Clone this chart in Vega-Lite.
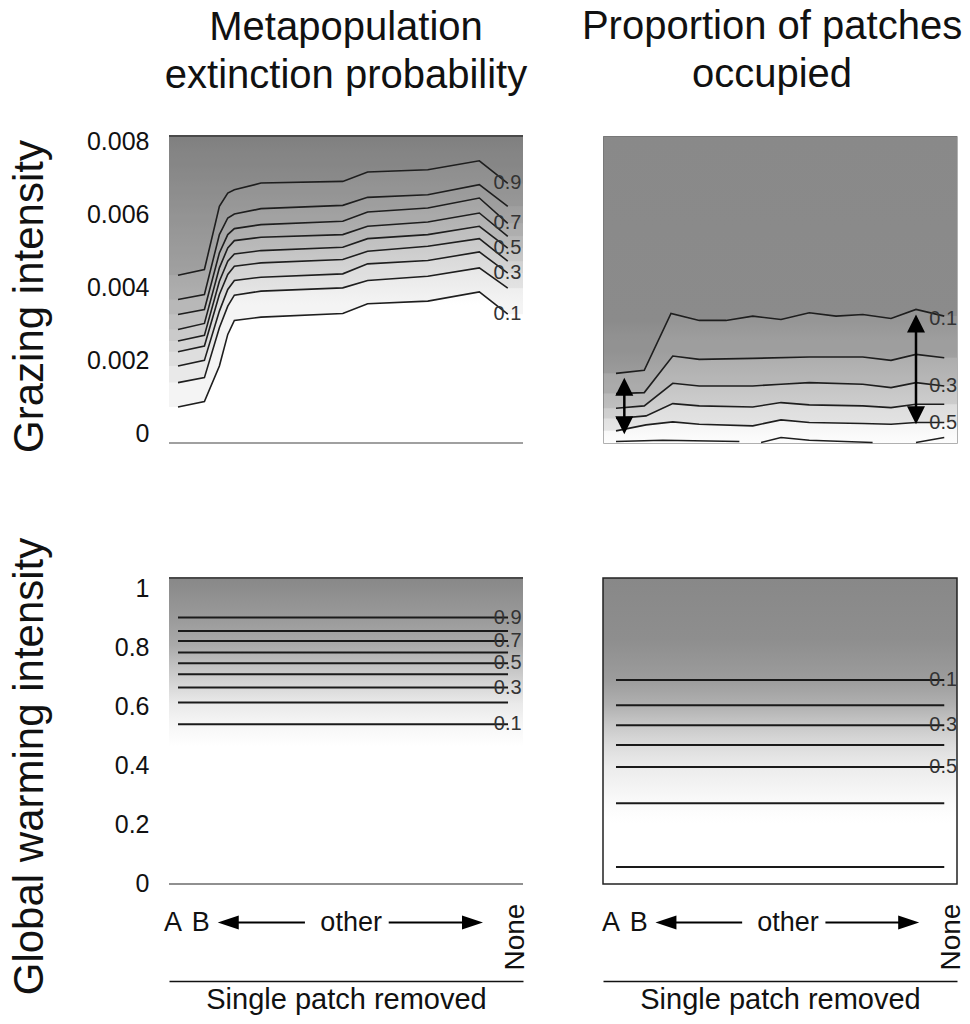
{
  "$schema": "https://vega.github.io/schema/vega-lite/v6.json",
  "padding": {"left": 7, "top": 6, "right": 5, "bottom": 5},
  "background": "white",
  "columns": 2,
  "spacing": {"row": 135, "column": 80},
  "bounds": "flush",
  "config": {
    "view": {"stroke": null},
    "font": "Liberation Sans",
    "axis": {"grid": false, "ticks": false, "domain": false, "labelFontSize": 25, "labelColor": "#111111", "labelPadding": 20, "titleFontSize": 42, "titleFontWeight": "normal", "titleColor": "#111111", "labelFont": "Liberation Sans", "titleFont": "Liberation Sans"},
    "title": {"fontSize": 40, "fontWeight": "normal", "color": "#111111", "font": "Liberation Sans"},
    "text": {"font": "Liberation Sans"}
  },
  "datasets": {
    "tl": [
      {"level":"0.9","x":1,"y":0.004341},{"level":"0.9","x":2.04,"y":0.004496},{"level":"0.9","x":2.63,"y":0.006225},{"level":"0.9","x":2.96,"y":0.006589},{"level":"0.9","x":3.22,"y":0.00668},{"level":"0.9","x":4.27,"y":0.006862},{"level":"0.9","x":7.49,"y":0.006908},{"level":"0.9","x":8.47,"y":0.007163},{"level":"0.9","x":10.84,"y":0.007226},{"level":"0.9","x":12.87,"y":0.007472},{"level":"0.9","x":13.99,"y":0.006853},
      {"level":"0.9","x":0.645,"y":0.004341,"ext":1},{"level":"0.9","x":14.59,"y":0.006853,"ext":1},
      {"level":"0.8","x":1,"y":0.003677},{"level":"0.8","x":2.04,"y":0.003813},{"level":"0.8","x":2.63,"y":0.005452},{"level":"0.8","x":2.96,"y":0.005907},{"level":"0.8","x":3.22,"y":0.006016},{"level":"0.8","x":4.27,"y":0.006162},{"level":"0.8","x":7.49,"y":0.006253},{"level":"0.8","x":8.47,"y":0.006471},{"level":"0.8","x":10.84,"y":0.006544},{"level":"0.8","x":12.87,"y":0.006817},{"level":"0.8","x":13.99,"y":0.006225},
      {"level":"0.8","x":0.645,"y":0.003677,"ext":1},{"level":"0.8","x":14.59,"y":0.006225,"ext":1},
      {"level":"0.7","x":1,"y":0.003267},{"level":"0.7","x":2.04,"y":0.003404},{"level":"0.7","x":2.63,"y":0.004951},{"level":"0.7","x":2.96,"y":0.005452},{"level":"0.7","x":3.22,"y":0.005616},{"level":"0.7","x":4.27,"y":0.005725},{"level":"0.7","x":7.49,"y":0.005816},{"level":"0.7","x":8.47,"y":0.006071},{"level":"0.7","x":10.84,"y":0.00618},{"level":"0.7","x":12.87,"y":0.006453},{"level":"0.7","x":13.99,"y":0.005761},
      {"level":"0.7","x":0.645,"y":0.003267,"ext":1},{"level":"0.7","x":14.59,"y":0.005761,"ext":1},
      {"level":"0.6","x":1,"y":0.002858},{"level":"0.6","x":2.04,"y":0.003022},{"level":"0.6","x":2.63,"y":0.004542},{"level":"0.6","x":2.96,"y":0.005088},{"level":"0.6","x":3.22,"y":0.005288},{"level":"0.6","x":4.27,"y":0.005379},{"level":"0.6","x":7.49,"y":0.005452},{"level":"0.6","x":8.47,"y":0.005679},{"level":"0.6","x":10.84,"y":0.005798},{"level":"0.6","x":12.87,"y":0.006043},{"level":"0.6","x":13.99,"y":0.005406},
      {"level":"0.6","x":0.645,"y":0.002858,"ext":1},{"level":"0.6","x":14.59,"y":0.005406,"ext":1},
      {"level":"0.5","x":1,"y":0.002539},{"level":"0.5","x":2.04,"y":0.002694},{"level":"0.5","x":2.63,"y":0.004178},{"level":"0.5","x":2.96,"y":0.004724},{"level":"0.5","x":3.22,"y":0.004924},{"level":"0.5","x":4.27,"y":0.005015},{"level":"0.5","x":7.49,"y":0.005106},{"level":"0.5","x":8.47,"y":0.005342},{"level":"0.5","x":10.84,"y":0.005452},{"level":"0.5","x":12.87,"y":0.005679},{"level":"0.5","x":13.99,"y":0.005079},
      {"level":"0.5","x":0.645,"y":0.002539,"ext":1},{"level":"0.5","x":14.59,"y":0.005079,"ext":1},
      {"level":"0.4","x":1,"y":0.002248},{"level":"0.4","x":2.04,"y":0.002403},{"level":"0.4","x":2.63,"y":0.003813},{"level":"0.4","x":2.96,"y":0.00436},{"level":"0.4","x":3.22,"y":0.004587},{"level":"0.4","x":4.27,"y":0.004678},{"level":"0.4","x":7.49,"y":0.004769},{"level":"0.4","x":8.47,"y":0.004997},{"level":"0.4","x":10.84,"y":0.005133},{"level":"0.4","x":12.87,"y":0.005342},{"level":"0.4","x":13.99,"y":0.004724},
      {"level":"0.4","x":0.645,"y":0.002248,"ext":1},{"level":"0.4","x":14.59,"y":0.004724,"ext":1},
      {"level":"0.3","x":1,"y":0.001857},{"level":"0.3","x":2.04,"y":0.002011},{"level":"0.3","x":2.63,"y":0.003358},{"level":"0.3","x":2.96,"y":0.00395},{"level":"0.3","x":3.22,"y":0.004196},{"level":"0.3","x":4.27,"y":0.004287},{"level":"0.3","x":7.49,"y":0.004378},{"level":"0.3","x":8.47,"y":0.004651},{"level":"0.3","x":10.84,"y":0.004742},{"level":"0.3","x":12.87,"y":0.004978},{"level":"0.3","x":13.99,"y":0.004396},
      {"level":"0.3","x":0.645,"y":0.001857,"ext":1},{"level":"0.3","x":14.59,"y":0.004396,"ext":1},
      {"level":"0.2","x":1,"y":0.001402},{"level":"0.2","x":2.04,"y":0.001538},{"level":"0.2","x":2.63,"y":0.002903},{"level":"0.2","x":2.96,"y":0.003495},{"level":"0.2","x":3.22,"y":0.003795},{"level":"0.2","x":4.27,"y":0.003905},{"level":"0.2","x":7.49,"y":0.003995},{"level":"0.2","x":8.47,"y":0.004196},{"level":"0.2","x":10.84,"y":0.004314},{"level":"0.2","x":12.87,"y":0.004542},{"level":"0.2","x":13.99,"y":0.003986},
      {"level":"0.2","x":0.645,"y":0.001402,"ext":1},{"level":"0.2","x":14.59,"y":0.003986,"ext":1},
      {"level":"0.1","x":1,"y":0.000737},{"level":"0.1","x":2.04,"y":0.000883},{"level":"0.1","x":2.63,"y":0.001857},{"level":"0.1","x":2.96,"y":0.002721},{"level":"0.1","x":3.22,"y":0.003104},{"level":"0.1","x":4.27,"y":0.003195},{"level":"0.1","x":7.49,"y":0.003295},{"level":"0.1","x":8.47,"y":0.003559},{"level":"0.1","x":10.84,"y":0.003631},{"level":"0.1","x":12.87,"y":0.003886},{"level":"0.1","x":13.99,"y":0.003276},
      {"level":"0.1","x":0.645,"y":0.000737,"ext":1},{"level":"0.1","x":14.59,"y":0.003276,"ext":1}
    ],
    "tl_lab": [
      {"label":"0.9","x":13.98,"y":0.006853},{"label":"0.7","x":13.98,"y":0.005761},{"label":"0.5","x":13.98,"y":0.005079},{"label":"0.3","x":13.98,"y":0.004396},{"label":"0.1","x":13.98,"y":0.003276}
    ],
    "tr": [
      {"level":"0.1","x":1,"y":0.001656},{"level":"0.1","x":2.12,"y":0.001738},{"level":"0.1","x":3.18,"y":0.003295},{"level":"0.1","x":4.3,"y":0.003104},{"level":"0.1","x":5.36,"y":0.003104},{"level":"0.1","x":6.42,"y":0.003222},{"level":"0.1","x":7.54,"y":0.003131},{"level":"0.1","x":8.66,"y":0.003313},{"level":"0.1","x":9.72,"y":0.003222},{"level":"0.1","x":10.78,"y":0.003267},{"level":"0.1","x":11.9,"y":0.003158},{"level":"0.1","x":12.89,"y":0.003404},{"level":"0.1","x":14.01,"y":0.003222},
      {"level":"0.1","x":0.485,"y":0.001656,"ext":1},{"level":"0.1","x":14.515,"y":0.003222,"ext":1},
      {"level":"0.2","x":1,"y":0.001101},{"level":"0.2","x":2.12,"y":0.001129},{"level":"0.2","x":3.25,"y":0.00213},{"level":"0.2","x":4.3,"y":0.002039},{"level":"0.2","x":6.42,"y":0.002066},{"level":"0.2","x":8.66,"y":0.002102},{"level":"0.2","x":10.78,"y":0.002102},{"level":"0.2","x":11.9,"y":0.002011},{"level":"0.2","x":12.89,"y":0.002175},{"level":"0.2","x":14.01,"y":0.002084},
      {"level":"0.2","x":0.485,"y":0.001101,"ext":1},{"level":"0.2","x":14.515,"y":0.002084,"ext":1},
      {"level":"0.3","x":1,"y":0.000701},{"level":"0.3","x":2.12,"y":0.000765},{"level":"0.3","x":3.25,"y":0.001383},{"level":"0.3","x":4.3,"y":0.001311},{"level":"0.3","x":6.42,"y":0.001311},{"level":"0.3","x":7.54,"y":0.001356},{"level":"0.3","x":8.66,"y":0.001402},{"level":"0.3","x":10.78,"y":0.001356},{"level":"0.3","x":11.9,"y":0.001265},{"level":"0.3","x":12.89,"y":0.001402},{"level":"0.3","x":14.01,"y":0.001311},
      {"level":"0.3","x":0.485,"y":0.000701,"ext":1},{"level":"0.3","x":14.515,"y":0.001311,"ext":1},
      {"level":"0.4","x":1,"y":0.000419},{"level":"0.4","x":2.19,"y":0.000491},{"level":"0.4","x":3.25,"y":0.000828},{"level":"0.4","x":4.3,"y":0.000765},{"level":"0.4","x":6.42,"y":0.000737},{"level":"0.4","x":7.54,"y":0.000856},{"level":"0.4","x":8.66,"y":0.000792},{"level":"0.4","x":10.78,"y":0.000765},{"level":"0.4","x":11.9,"y":0.000719},{"level":"0.4","x":12.89,"y":0.00081},{"level":"0.4","x":14.01,"y":0.00081},
      {"level":"0.4","x":0.485,"y":0.000419,"ext":1},{"level":"0.4","x":14.515,"y":0.00081,"ext":1},
      {"level":"0.5","x":1,"y":0.000082},{"level":"0.5","x":2.19,"y":0.000246},{"level":"0.5","x":3.25,"y":0.000328},{"level":"0.5","x":4.3,"y":0.000264},{"level":"0.5","x":6.42,"y":0.000218},{"level":"0.5","x":7.54,"y":0.000382},{"level":"0.5","x":8.66,"y":0.000309},{"level":"0.5","x":10.78,"y":0.000282},{"level":"0.5","x":11.9,"y":0.000264},{"level":"0.5","x":12.89,"y":0.000309},{"level":"0.5","x":14.01,"y":0.000309},
      {"level":"0.5","x":0.485,"y":0.000082,"ext":1},{"level":"0.5","x":14.515,"y":0.000309,"ext":1}
    ],
    "tr_frag": [
      {"seg":"a","x":1,"y":-0.000209},{"seg":"a","x":2.85,"y":-0.000173},{"seg":"a","x":5.89,"y":-0.000209},
      {"seg":"b","x":6.75,"y":-0.000237},{"seg":"b","x":7.54,"y":-0.0001},{"seg":"b","x":8.66,"y":-0.000173},{"seg":"b","x":11.17,"y":-0.000237},
      {"seg":"c","x":12.89,"y":-0.000237},{"seg":"c","x":14.01,"y":-0.0001}
    ],
    "tr_lab": [
      {"label":"0.1","x":13.97,"y":0.003131},{"label":"0.3","x":13.97,"y":0.001311},{"label":"0.5","x":13.97,"y":0.000309}
    ],
    "tr_arw_rule": [
      {"x":1.33,"y":0.001291,"y2":0.000238},{"x":12.89,"y":0.003022,"y2":0.000511}
    ],
    "tr_arw_head": [
      {"x":1.33,"y":0.001291,"dir":"up"},{"x":1.33,"y":0.000238,"dir":"down"},{"x":12.89,"y":0.003022,"dir":"up"},{"x":12.89,"y":0.000511,"dir":"down"}
    ],
    "bl": [
      {"level":"0.9","x":1,"y":0.9027},{"level":"0.9","x":14,"y":0.9027},
      {"level":"0.8","x":1,"y":0.8576},{"level":"0.8","x":14,"y":0.8576},
      {"level":"0.7","x":1,"y":0.8237},{"level":"0.7","x":14,"y":0.8237},
      {"level":"0.6","x":1,"y":0.7841},{"level":"0.6","x":14,"y":0.7841},
      {"level":"0.5","x":1,"y":0.7481},{"level":"0.5","x":14,"y":0.7481},
      {"level":"0.4","x":1,"y":0.7108},{"level":"0.4","x":14,"y":0.7108},
      {"level":"0.3","x":1,"y":0.6655},{"level":"0.3","x":14,"y":0.6655},
      {"level":"0.2","x":1,"y":0.6146},{"level":"0.2","x":14,"y":0.6146},
      {"level":"0.1","x":1,"y":0.5414},{"level":"0.1","x":14,"y":0.5414}
    ],
    "bl_lab": [
      {"label":"0.9","x":13.99,"y":0.9027},{"label":"0.7","x":13.99,"y":0.8237},{"label":"0.5","x":13.99,"y":0.7481},{"label":"0.3","x":13.99,"y":0.6655},{"label":"0.1","x":13.99,"y":0.5414}
    ],
    "br": [
      {"level":"0.1","x":1,"y":0.6915},{"level":"0.1","x":14.01,"y":0.6915},
      {"level":"0.2","x":1,"y":0.6058},{"level":"0.2","x":14.01,"y":0.6058},
      {"level":"0.3","x":1,"y":0.538},{"level":"0.3","x":14.01,"y":0.538},
      {"level":"0.4","x":1,"y":0.4712},{"level":"0.4","x":14.01,"y":0.4712},
      {"level":"0.5","x":1,"y":0.3966},{"level":"0.5","x":14.01,"y":0.3966},
      {"level":"0.6","x":1,"y":0.2736},{"level":"0.6","x":14.01,"y":0.2736},
      {"level":"0.7","x":1,"y":0.0576},{"level":"0.7","x":14.01,"y":0.0576}
    ],
    "br_lab": [
      {"label":"0.1","x":13.97,"y":0.6915},{"label":"0.3","x":13.97,"y":0.538},{"label":"0.5","x":13.97,"y":0.3966}
    ],
    "annot_txt": [
      {"t":"A","x":0.8,"y":-0.131},{"t":"B","x":1.9,"y":-0.131},{"t":"other","x":7.82,"y":-0.131}
    ],
    "annot_none": [{"t":"None","x":14.33,"y":-0.18}],
    "annot_rule": [{"x":2.98,"x2":6.0,"y":-0.131},{"x":9.3,"x2":12.6,"y":-0.131}],
    "annot_head": [{"x":2.98,"y":-0.131,"dir":"left"},{"x":12.6,"y":-0.131,"dir":"right"}],
    "one": [{}]
  },
  "concat": [
    {
      "width": 354, "height": 307,
      "title": {"text": ["Metapopulation", "extinction probability"], "anchor": "middle", "baseline": "bottom", "lineHeight": 48, "offset": -7},
      "view": {"fill": {"gradient": "linear", "x1": 0, "y1": 0, "x2": 0, "y2": 1, "stops": [{"offset": 0, "color": "#c4c4c4"}, {"offset": 0.55, "color": "#ffffff"}, {"offset": 1, "color": "#ffffff"}]}},
      "layer": [
        {"data": {"name": "tl"}, "mark": {"type": "area", "color": "#000000", "opacity": 0.045},
         "encoding": {
           "x": {"field": "x", "type": "quantitative", "scale": {"domain": [0.645, 14.59], "nice": false, "zero": false}, "axis": null},
           "y": {"field": "y", "type": "quantitative", "stack": null, "scale": {"domain": [-0.00025, 0.00815], "nice": false, "zero": false},
                 "axis": {"values": [0, 0.002, 0.004, 0.006, 0.008], "format": ".3~f", "title": "Grazing intensity", "titleX": -118, "titleY": 160, "titleAngle": 270, "titleBaseline": "bottom", "titleAlign": "center"}},
           "y2": {"datum": 0.00815},
           "detail": {"field": "level"}}},
        {"data": {"name": "tl"}, "transform": [{"filter": "!datum.ext"}], "mark": {"type": "line", "color": "#1e1e1e", "strokeWidth": 1.6},
         "encoding": {
           "x": {"field": "x", "type": "quantitative", "scale": {"domain": [0.645, 14.59], "nice": false, "zero": false}, "axis": null},
           "y": {"field": "y", "type": "quantitative", "scale": {"domain": [-0.00025, 0.00815], "nice": false, "zero": false}},
           "detail": {"field": "level"}}},
        {"data": {"name": "one"}, "mark": {"type": "rule", "color": "#4a4a4a", "strokeWidth": 2},
         "encoding": {"y": {"datum": 0.00815, "type": "quantitative", "scale": {"domain": [-0.00025, 0.00815], "nice": false, "zero": false}}}},
        {"data": {"name": "one"}, "mark": {"type": "rule", "color": "#a0a0a0", "strokeWidth": 2},
         "encoding": {"y": {"datum": -0.00025, "type": "quantitative", "scale": {"domain": [-0.00025, 0.00815], "nice": false, "zero": false}}}},
        {"data": {"name": "tl_lab"}, "mark": {"type": "text", "fontSize": 20, "color": "#333333"},
         "encoding": {
           "x": {"field": "x", "type": "quantitative", "scale": {"domain": [0.645, 14.59], "nice": false, "zero": false}, "axis": null},
           "y": {"field": "y", "type": "quantitative", "scale": {"domain": [-0.00025, 0.00815], "nice": false, "zero": false}},
           "text": {"field": "label", "type": "nominal"}}}
      ]
    },
    {
      "width": 354, "height": 307,
      "title": {"text": ["Proportion of patches", "occupied"], "anchor": "middle", "baseline": "bottom", "lineHeight": 48, "offset": 1, "dx": -8},
      "view": {"fill": {"gradient": "linear", "x1": 0, "y1": 0, "x2": 0, "y2": 1, "stops": [{"offset": 0, "color": "#cacaca"}, {"offset": 0.6, "color": "#cccccc"}, {"offset": 1, "color": "#fdfdfd"}]}, "stroke": "#b0b0b0", "strokeWidth": 1},
      "layer": [
        {"data": {"name": "tr"}, "mark": {"type": "area", "color": "#000000", "opacity": 0.07},
         "encoding": {
           "x": {"field": "x", "type": "quantitative", "scale": {"domain": [0.485, 14.515], "nice": false, "zero": false}, "axis": null},
           "y": {"field": "y", "type": "quantitative", "stack": null, "scale": {"domain": [-0.00025, 0.00815], "nice": false, "zero": false}, "axis": null},
           "y2": {"datum": 0.00815},
           "detail": {"field": "level"}}},
        {"data": {"name": "tr"}, "transform": [{"filter": "!datum.ext"}], "mark": {"type": "line", "color": "#1e1e1e", "strokeWidth": 1.6},
         "encoding": {
           "x": {"field": "x", "type": "quantitative", "scale": {"domain": [0.485, 14.515], "nice": false, "zero": false}, "axis": null},
           "y": {"field": "y", "type": "quantitative", "scale": {"domain": [-0.00025, 0.00815], "nice": false, "zero": false}, "axis": null},
           "detail": {"field": "level"}}},
        {"data": {"name": "tr_frag"}, "mark": {"type": "line", "color": "#1e1e1e", "strokeWidth": 1.6},
         "encoding": {
           "x": {"field": "x", "type": "quantitative", "scale": {"domain": [0.485, 14.515], "nice": false, "zero": false}, "axis": null},
           "y": {"field": "y", "type": "quantitative", "scale": {"domain": [-0.00025, 0.00815], "nice": false, "zero": false}, "axis": null},
           "detail": {"field": "seg"}}},
        {"data": {"name": "tr_arw_rule"}, "mark": {"type": "rule", "color": "#000000", "strokeWidth": 2.5},
         "encoding": {
           "x": {"field": "x", "type": "quantitative", "scale": {"domain": [0.485, 14.515], "nice": false, "zero": false}, "axis": null},
           "y": {"field": "y", "type": "quantitative", "scale": {"domain": [-0.00025, 0.00815], "nice": false, "zero": false}, "axis": null},
           "y2": {"field": "y2"}}},
        {"data": {"name": "tr_arw_head"}, "mark": {"type": "point", "filled": true, "color": "#000000", "opacity": 1, "size": 324},
         "encoding": {
           "x": {"field": "x", "type": "quantitative", "scale": {"domain": [0.485, 14.515], "nice": false, "zero": false}, "axis": null},
           "y": {"field": "y", "type": "quantitative", "scale": {"domain": [-0.00025, 0.00815], "nice": false, "zero": false}, "axis": null},
           "shape": {"field": "dir", "type": "nominal", "legend": null, "scale": {"domain": ["up", "down", "left", "right"], "range": ["M0,-1L1,1L-1,1Z", "M0,1L1,-1L-1,-1Z", "M-1,0L1,-0.67L1,0.67Z", "M1,0L-1,-0.67L-1,0.67Z"]}}}},
        {"data": {"name": "tr_lab"}, "mark": {"type": "text", "fontSize": 20, "color": "#333333"},
         "encoding": {
           "x": {"field": "x", "type": "quantitative", "scale": {"domain": [0.485, 14.515], "nice": false, "zero": false}, "axis": null},
           "y": {"field": "y", "type": "quantitative", "scale": {"domain": [-0.00025, 0.00815], "nice": false, "zero": false}, "axis": null},
           "text": {"field": "label", "type": "nominal"}}}
      ]
    },
    {
      "width": 354, "height": 403,
      "view": {"fill": {"gradient": "linear", "x1": 0, "y1": 0, "x2": 0, "y2": 1, "stops": [{"offset": 0, "color": "#888888"}, {"offset": 0.099, "color": "#9a9a9a"}, {"offset": 0.167, "color": "#aaaaaa"}, {"offset": 0.213, "color": "#c0c0c0"}, {"offset": 0.274, "color": "#dadada"}, {"offset": 0.312, "color": "#eaeaea"}, {"offset": 0.365, "color": "#f6f6f6"}, {"offset": 0.418, "color": "#ffffff"}, {"offset": 1, "color": "#ffffff"}]}},
      "layer": [
        {"data": {"name": "bl"}, "mark": {"type": "line", "color": "#1a1a1a", "strokeWidth": 2},
         "encoding": {
           "x": {"field": "x", "type": "quantitative", "scale": {"domain": [0.645, 14.59], "nice": false, "zero": false},
                 "axis": {"domain": true, "domainColor": "#111111", "domainWidth": 1.5, "labels": false, "title": "Single patch removed", "titleFontSize": 29, "titlePadding": 4}},
           "y": {"field": "y", "type": "quantitative", "scale": {"domain": [-0.329, 1.037], "nice": false, "zero": false},
                 "axis": {"values": [0, 0.2, 0.4, 0.6, 0.8, 1], "format": ".1~f", "title": "Global warming intensity", "titleX": -118, "titleY": 188, "titleAngle": 270, "titleBaseline": "bottom", "titleAlign": "center"}},
           "detail": {"field": "level"}}},
        {"data": {"name": "one"}, "mark": {"type": "rule", "color": "#4a4a4a", "strokeWidth": 2},
         "encoding": {"y": {"datum": 1.037, "type": "quantitative", "scale": {"domain": [-0.329, 1.037], "nice": false, "zero": false}}}},
        {"data": {"name": "one"}, "mark": {"type": "rule", "color": "#909090", "strokeWidth": 2},
         "encoding": {"y": {"datum": 0, "type": "quantitative", "scale": {"domain": [-0.329, 1.037], "nice": false, "zero": false}}}},
        {"data": {"name": "bl_lab"}, "mark": {"type": "text", "fontSize": 20, "color": "#333333"},
         "encoding": {
           "x": {"field": "x", "type": "quantitative", "scale": {"domain": [0.645, 14.59], "nice": false, "zero": false}},
           "y": {"field": "y", "type": "quantitative", "scale": {"domain": [-0.329, 1.037], "nice": false, "zero": false}},
           "text": {"field": "label", "type": "nominal"}}},
        {"data": {"name": "annot_txt"}, "mark": {"type": "text", "fontSize": 27, "color": "#111111", "baseline": "middle"},
         "encoding": {
           "x": {"field": "x", "type": "quantitative", "scale": {"domain": [0.645, 14.59], "nice": false, "zero": false}},
           "y": {"field": "y", "type": "quantitative", "scale": {"domain": [-0.329, 1.037], "nice": false, "zero": false}},
           "text": {"field": "t", "type": "nominal"}}},
        {"data": {"name": "annot_none"}, "mark": {"type": "text", "fontSize": 28, "color": "#111111", "baseline": "middle", "angle": 270},
         "encoding": {
           "x": {"field": "x", "type": "quantitative", "scale": {"domain": [0.645, 14.59], "nice": false, "zero": false}},
           "y": {"field": "y", "type": "quantitative", "scale": {"domain": [-0.329, 1.037], "nice": false, "zero": false}},
           "text": {"field": "t", "type": "nominal"}}},
        {"data": {"name": "annot_rule"}, "mark": {"type": "rule", "color": "#000000", "strokeWidth": 2},
         "encoding": {
           "x": {"field": "x", "type": "quantitative", "scale": {"domain": [0.645, 14.59], "nice": false, "zero": false}},
           "x2": {"field": "x2"},
           "y": {"field": "y", "type": "quantitative", "scale": {"domain": [-0.329, 1.037], "nice": false, "zero": false}}}},
        {"data": {"name": "annot_head"}, "mark": {"type": "point", "filled": true, "color": "#000000", "opacity": 1, "size": 441},
         "encoding": {
           "x": {"field": "x", "type": "quantitative", "scale": {"domain": [0.645, 14.59], "nice": false, "zero": false}},
           "y": {"field": "y", "type": "quantitative", "scale": {"domain": [-0.329, 1.037], "nice": false, "zero": false}},
           "shape": {"field": "dir", "type": "nominal", "legend": null, "scale": {"domain": ["up", "down", "left", "right"], "range": ["M0,-1L1,1L-1,1Z", "M0,1L1,-1L-1,-1Z", "M-1,0L1,-0.67L1,0.67Z", "M1,0L-1,-0.67L-1,0.67Z"]}}}}
      ]
    },
    {
      "width": 354, "height": 403,
      "view": {"fill": {"gradient": "linear", "x1": 0, "y1": 0, "x2": 0, "y2": 1, "stops": [{"offset": 0, "color": "#888888"}, {"offset": 0.152, "color": "#8e8e8e"}, {"offset": 0.253, "color": "#9c9c9c"}, {"offset": 0.315, "color": "#b0b0b0"}, {"offset": 0.365, "color": "#c8c8c8"}, {"offset": 0.415, "color": "#dcdcdc"}, {"offset": 0.47, "color": "#ececec"}, {"offset": 0.559, "color": "#fafafa"}, {"offset": 0.608, "color": "#ffffff"}, {"offset": 1, "color": "#ffffff"}]}},
      "layer": [
        {"data": {"name": "br"}, "mark": {"type": "line", "color": "#1a1a1a", "strokeWidth": 2},
         "encoding": {
           "x": {"field": "x", "type": "quantitative", "scale": {"domain": [0.485, 14.515], "nice": false, "zero": false},
                 "axis": {"domain": true, "domainColor": "#111111", "domainWidth": 1.5, "labels": false, "title": "Single patch removed", "titleFontSize": 29, "titlePadding": 4}},
           "y": {"field": "y", "type": "quantitative", "scale": {"domain": [-0.329, 1.037], "nice": false, "zero": false}, "axis": null},
           "detail": {"field": "level"}}},
        {"data": {"name": "one"}, "mark": {"type": "rect", "fill": "transparent", "stroke": "#222222", "strokeWidth": 1.5},
         "encoding": {
           "x": {"datum": 0.485, "type": "quantitative", "scale": {"domain": [0.485, 14.515], "nice": false, "zero": false}},
           "x2": {"datum": 14.515},
           "y": {"datum": 0, "type": "quantitative", "scale": {"domain": [-0.329, 1.037], "nice": false, "zero": false}, "axis": null},
           "y2": {"datum": 1.037}}},
        {"data": {"name": "br_lab"}, "mark": {"type": "text", "fontSize": 20, "color": "#333333"},
         "encoding": {
           "x": {"field": "x", "type": "quantitative", "scale": {"domain": [0.485, 14.515], "nice": false, "zero": false}},
           "y": {"field": "y", "type": "quantitative", "scale": {"domain": [-0.329, 1.037], "nice": false, "zero": false}, "axis": null},
           "text": {"field": "label", "type": "nominal"}}},
        {"data": {"name": "annot_txt"}, "mark": {"type": "text", "fontSize": 27, "color": "#111111", "baseline": "middle"},
         "encoding": {
           "x": {"field": "x", "type": "quantitative", "scale": {"domain": [0.485, 14.515], "nice": false, "zero": false}},
           "y": {"field": "y", "type": "quantitative", "scale": {"domain": [-0.329, 1.037], "nice": false, "zero": false}, "axis": null},
           "text": {"field": "t", "type": "nominal"}}},
        {"data": {"name": "annot_none"}, "mark": {"type": "text", "fontSize": 28, "color": "#111111", "baseline": "middle", "angle": 270},
         "encoding": {
           "x": {"field": "x", "type": "quantitative", "scale": {"domain": [0.485, 14.515], "nice": false, "zero": false}},
           "y": {"field": "y", "type": "quantitative", "scale": {"domain": [-0.329, 1.037], "nice": false, "zero": false}, "axis": null},
           "text": {"field": "t", "type": "nominal"}}},
        {"data": {"name": "annot_rule"}, "mark": {"type": "rule", "color": "#000000", "strokeWidth": 2},
         "encoding": {
           "x": {"field": "x", "type": "quantitative", "scale": {"domain": [0.485, 14.515], "nice": false, "zero": false}},
           "x2": {"field": "x2"},
           "y": {"field": "y", "type": "quantitative", "scale": {"domain": [-0.329, 1.037], "nice": false, "zero": false}, "axis": null}}},
        {"data": {"name": "annot_head"}, "mark": {"type": "point", "filled": true, "color": "#000000", "opacity": 1, "size": 441},
         "encoding": {
           "x": {"field": "x", "type": "quantitative", "scale": {"domain": [0.485, 14.515], "nice": false, "zero": false}},
           "y": {"field": "y", "type": "quantitative", "scale": {"domain": [-0.329, 1.037], "nice": false, "zero": false}, "axis": null},
           "shape": {"field": "dir", "type": "nominal", "legend": null, "scale": {"domain": ["up", "down", "left", "right"], "range": ["M0,-1L1,1L-1,1Z", "M0,1L1,-1L-1,-1Z", "M-1,0L1,-0.67L1,0.67Z", "M1,0L-1,-0.67L-1,0.67Z"]}}}}
      ]
    }
  ]
}
